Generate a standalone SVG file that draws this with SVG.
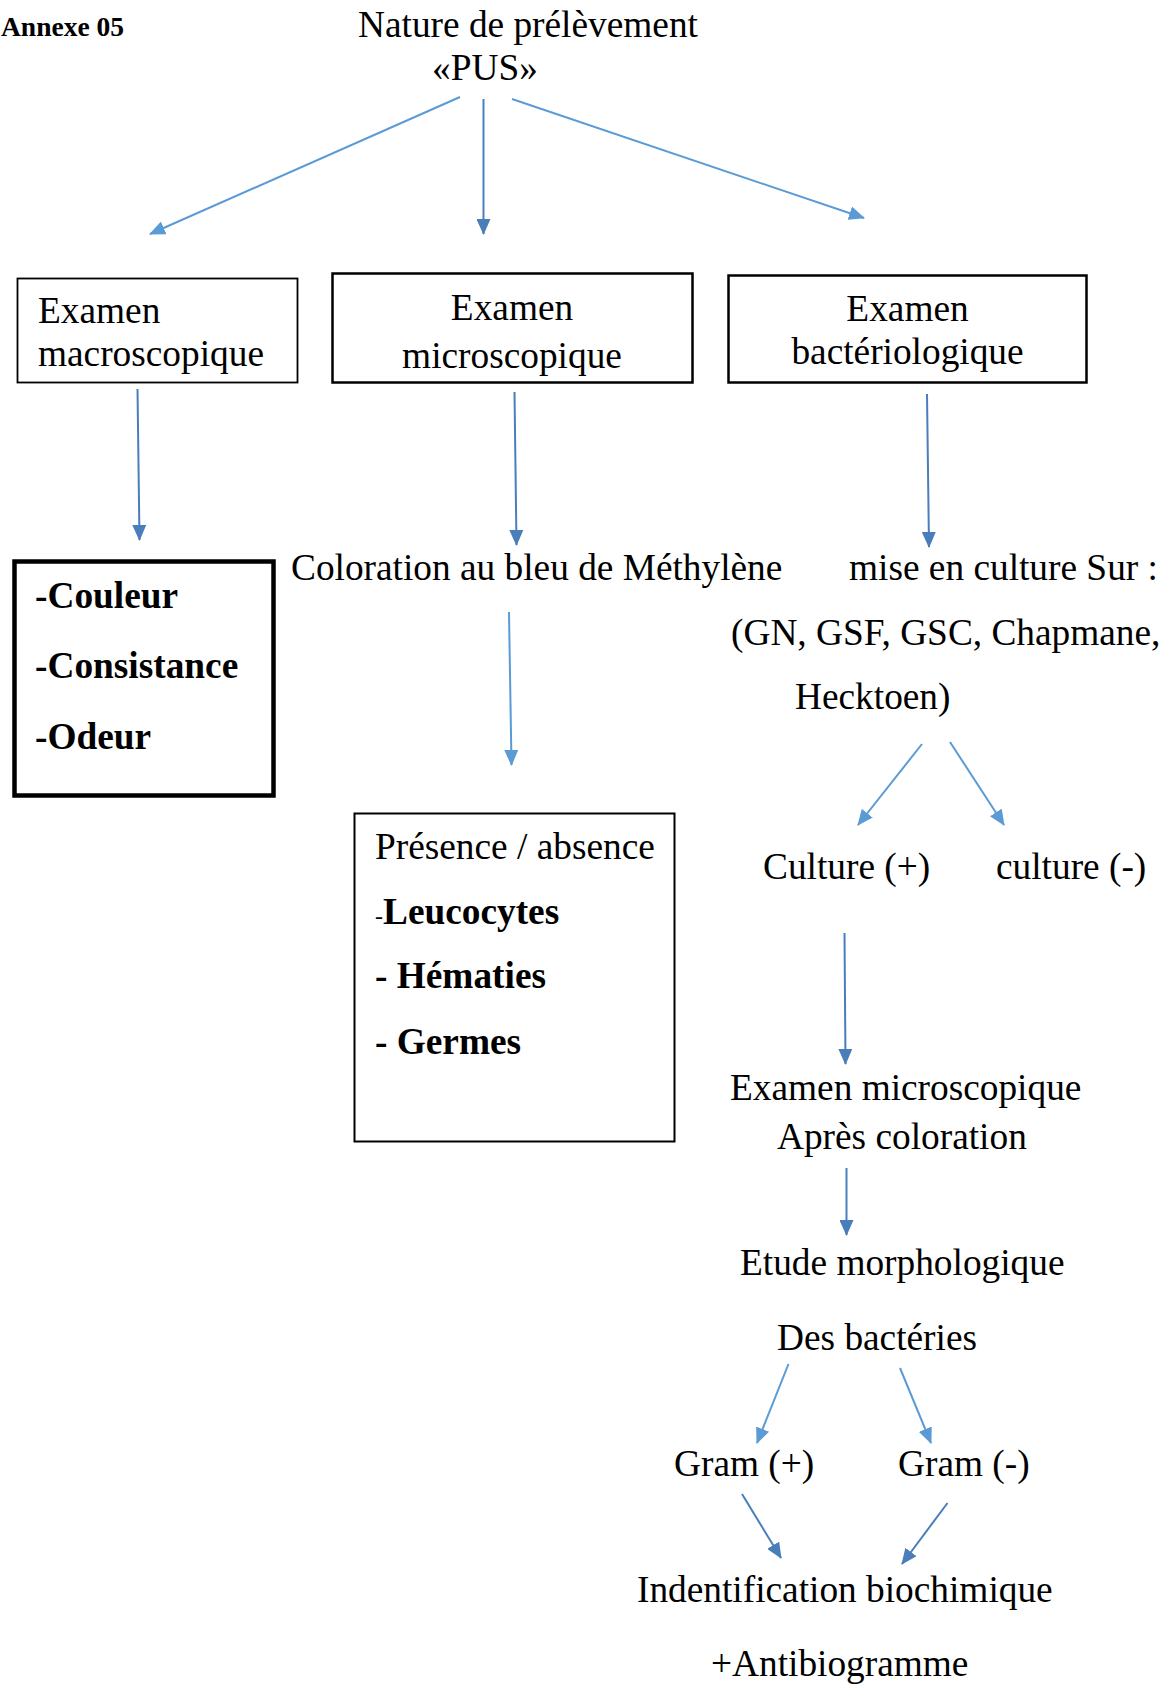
<svg xmlns="http://www.w3.org/2000/svg" width="1173" height="1685" viewBox="0 0 1173 1685">
  <style>
    .t { font-family: "Liberation Serif", "Times New Roman", serif; font-size: 37.33px; fill: #000; }
    .b { font-weight: bold; }
    .box { fill: #fff; stroke: #000; }
    .light { stroke: #5B9BD5; stroke-width: 2; fill: none; marker-end: url(#aL); }
    .dark { stroke: #4A7EBB; stroke-width: 2; fill: none; marker-end: url(#aD); }
  </style>
  <defs>
    <marker id="aL" markerUnits="userSpaceOnUse" markerWidth="16" markerHeight="14" viewBox="0 0 16 14" refX="15" refY="7" orient="auto">
      <path d="M0,0 L16,7 L0,14 z" fill="#5B9BD5"/>
    </marker>
    <marker id="aD" markerUnits="userSpaceOnUse" markerWidth="16" markerHeight="14" viewBox="0 0 16 14" refX="15" refY="7" orient="auto">
      <path d="M0,0 L16,7 L0,14 z" fill="#4A7EBB"/>
    </marker>
  </defs>
  <rect width="1173" height="1685" fill="#fff"/>

  <g id="annexe"><text class="t b" x="1" y="36" style="font-size:27.5px">Annexe 05</text></g>

  <g id="root">
    <text class="t" x="358" y="37">Nature de prélèvement</text>
    <text class="t" x="432" y="80">«PUS»</text>
  </g>

  <g id="macro">
    <rect class="box" x="17.5" y="278.5" width="280" height="104" stroke-width="1.8"/>
    <text class="t" x="38" y="323">Examen</text>
    <text class="t" x="38" y="366">macroscopique</text>
  </g>

  <g id="micro">
    <rect class="box" x="332.5" y="273.5" width="360" height="109" stroke-width="2.5"/>
    <text class="t" x="512" y="320" text-anchor="middle">Examen</text>
    <text class="t" x="512" y="368" text-anchor="middle">microscopique</text>
  </g>

  <g id="bacterio">
    <rect class="box" x="728.5" y="275.5" width="358" height="107" stroke-width="2.5"/>
    <text class="t" x="907.5" y="321" text-anchor="middle">Examen</text>
    <text class="t" x="907.5" y="364" text-anchor="middle">bactériologique</text>
  </g>

  <g id="macro-items">
    <rect class="box" x="14.5" y="561.5" width="259" height="234" stroke-width="4.5"/>
    <text class="t b" x="35" y="608">-Couleur</text>
    <text class="t b" x="35" y="678">-Consistance</text>
    <text class="t b" x="35" y="749">-Odeur</text>
  </g>

  <g id="coloration"><text class="t" x="291" y="580">Coloration au bleu de Méthylène</text></g>

  <g id="presence">
    <rect class="box" x="354.5" y="813.5" width="320" height="328" stroke-width="2"/>
    <text class="t" x="375" y="859">Présence / absence</text>
    <text class="t" x="375" y="924"><tspan style="font-size:24px">-</tspan><tspan class="b">Leucocytes</tspan></text>
    <text class="t b" x="375" y="988">- Hématies</text>
    <text class="t b" x="375" y="1054">- Germes</text>
  </g>

  <g id="culture">
    <text class="t" x="849" y="580">mise en culture Sur :</text>
    <text class="t" x="731" y="645">(GN, GSF, GSC, Chapmane,</text>
    <text class="t" x="795" y="709">Hecktoen)</text>
  </g>

  <g id="culture-pos"><text class="t" x="763" y="879">Culture (+)</text></g>
  <g id="culture-neg"><text class="t" x="996" y="879">culture (-)</text></g>

  <g id="exam-micro2">
    <text class="t" x="730" y="1100">Examen microscopique</text>
    <text class="t" x="777" y="1149">Après coloration</text>
  </g>

  <g id="etude">
    <text class="t" x="740" y="1275">Etude morphologique</text>
    <text class="t" x="777" y="1350">Des bactéries</text>
  </g>

  <g id="gram-pos"><text class="t" x="674" y="1476">Gram (+)</text></g>
  <g id="gram-neg"><text class="t" x="898" y="1476">Gram (-)</text></g>

  <g id="identification">
    <text class="t" x="637" y="1602">Indentification biochimique</text>
    <text class="t" x="711" y="1676">+Antibiogramme</text>
  </g>

  <g id="connectors">
    <line class="light" x1="460" y1="97" x2="150" y2="234"/>
    <line class="dark" x1="483.5" y1="99" x2="483.5" y2="234"/>
    <line class="light" x1="512" y1="99" x2="864" y2="218"/>
    <line class="dark" x1="137.5" y1="389" x2="139.5" y2="540"/>
    <line class="dark" x1="514.5" y1="392" x2="516.5" y2="545"/>
    <line class="dark" x1="927" y1="394" x2="929" y2="547"/>
    <line class="light" x1="509" y1="612" x2="511.5" y2="765"/>
    <line class="light" x1="922" y1="744" x2="858" y2="825"/>
    <line class="light" x1="950" y1="742" x2="1004" y2="825"/>
    <line class="dark" x1="844.5" y1="933" x2="845.5" y2="1064"/>
    <line class="dark" x1="846.5" y1="1168" x2="846.5" y2="1235"/>
    <line class="light" x1="788.5" y1="1364" x2="757" y2="1443"/>
    <line class="light" x1="900" y1="1368" x2="931" y2="1443"/>
    <line class="dark" x1="742" y1="1494" x2="781" y2="1558"/>
    <line class="dark" x1="947.5" y1="1503" x2="902" y2="1564"/>
  </g>
</svg>
